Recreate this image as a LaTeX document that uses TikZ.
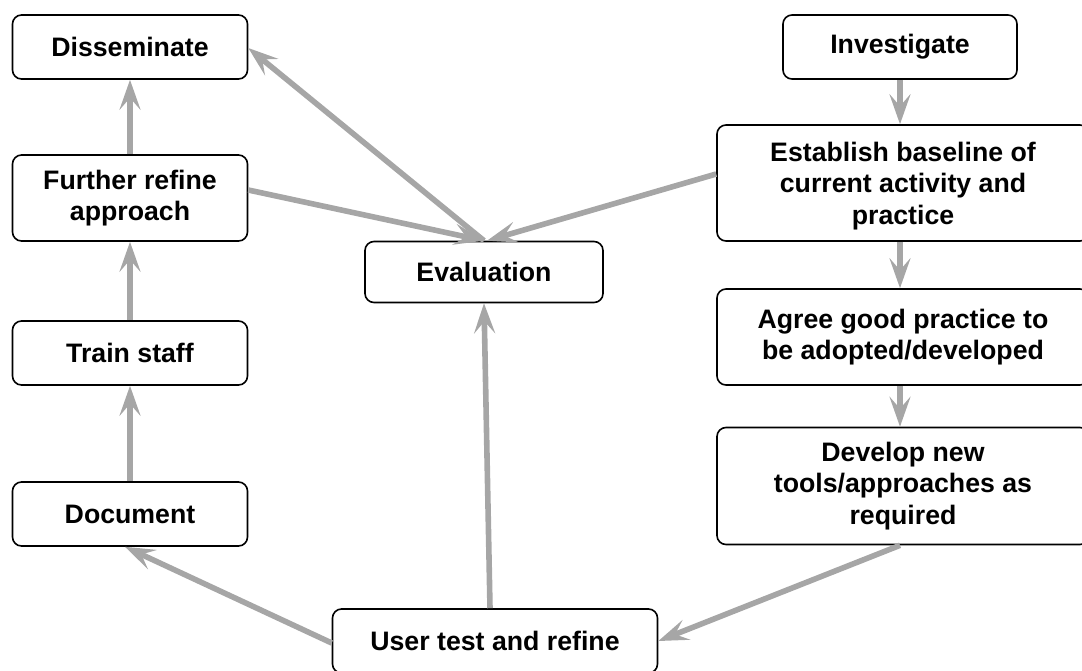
\documentclass[tikz,border=0pt]{standalone}
\usepackage{fontspec}
\setmainfont{Liberation Sans}
\usetikzlibrary{arrows.meta}
\definecolor{linkgray}{HTML}{A6A6A6}
\begin{document}
\begin{tikzpicture}[x=1pt,y=-1pt,
  box/.style={draw=black,line width=1.6pt,rounded corners=9pt,fill=white,
    align=center,inner sep=2pt,font=\bfseries\fontsize{26.7}{31.5}\selectfont},
  link/.style={draw=linkgray,line width=5.6pt,
    -{Stealth[length=30pt,width=21pt,inset=12pt,fill=linkgray]}}]
\useasboundingbox (0,0) rectangle (1082,670);

% left column
\node[box,minimum width=235pt,minimum height=64pt] (dis) at (130,47) {Disseminate};
\node[box,minimum width=235pt,minimum height=86pt] (fur) at (130,198) {Further refine\\approach};
\node[box,minimum width=235pt,minimum height=64pt] (trn) at (130,353) {Train staff};
\node[box,minimum width=235pt,minimum height=64pt] (doc) at (130,514) {Document};

% centre
\node[box,minimum width=238pt,minimum height=61pt] (eva) at (484,272) {Evaluation};
\node[box,minimum width=325pt,minimum height=64pt] (usr) at (495,641) {User test and refine};

% right column
\node[box,minimum width=234pt,minimum height=64pt] (inv) at (900,47) {Investigate};
\node[box,minimum width=372pt,minimum height=116pt] (est) at (903,183) {\\[-6pt]Establish baseline of\\current activity and\\practice};
\node[box,minimum width=372pt,minimum height=96pt] (agr) at (903,337) {Agree good practice to\\be adopted/developed};
\node[box,minimum width=372pt,minimum height=117pt] (dev) at (903,486) {Develop new\\tools/approaches as\\required};

% where the links meet the boxes
\coordinate (evatop) at (eva.north);
\coordinate (colx) at (inv.south);

% connectors
\draw[link] (fur.north) -- (dis.south);
\draw[link] (trn.north) -- (fur.south);
\draw[link] (doc.north) -- (trn.south);
\draw[link] (evatop) -- ([yshift=-1pt]dis.east);
\draw[link] ([yshift=8pt]fur.east) -- (evatop);
\draw[link] ([yshift=9pt]est.west) -- ([xshift=3pt]evatop);
\draw[link] ([xshift=-5pt]usr.north) -- (eva.south);
\draw[link] ([yshift=-2pt]usr.west) -- ([xshift=-5pt]doc.south);
\draw[link] (dev.south -| colx) -- (usr.east);
\draw[link] (colx) -- (est.north -| colx);
\draw[link] (est.south -| colx) -- (agr.north -| colx);
\draw[link] (agr.south -| colx) -- (dev.north -| colx);
\end{tikzpicture}
\end{document}
